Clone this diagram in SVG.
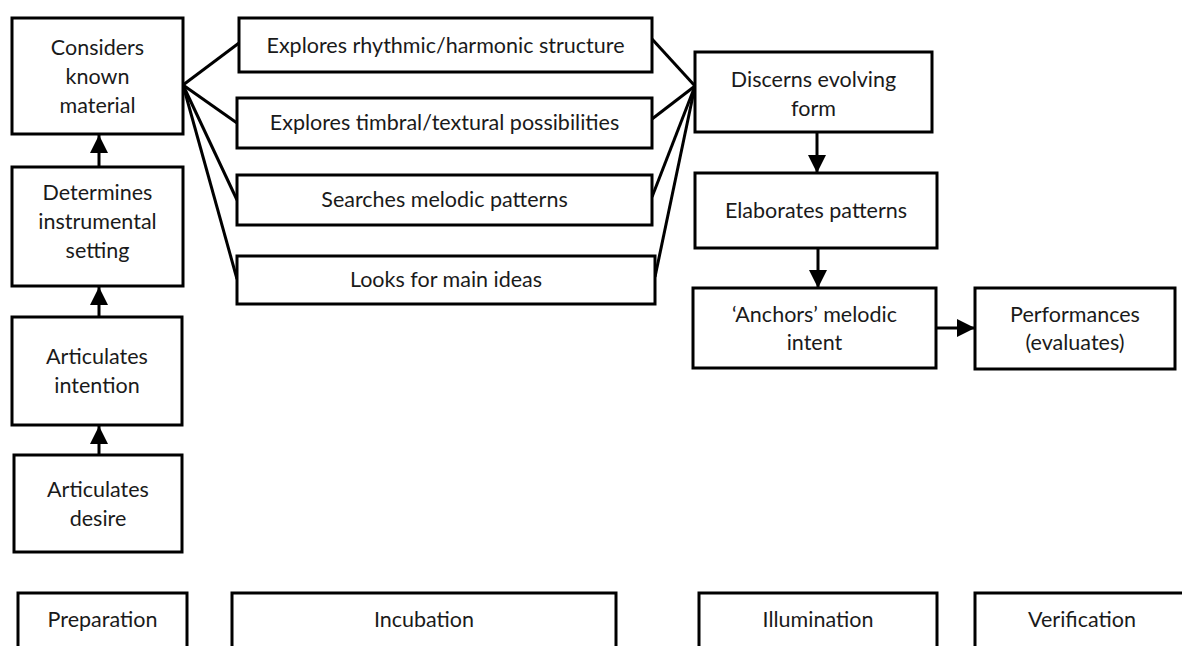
<svg xmlns="http://www.w3.org/2000/svg" width="1182" height="646" viewBox="0 0 1182 646">
  <style>
    .box { fill: #ffffff; stroke: #000000; stroke-width: 3; }
    .lbl { font-family: Lato, "Open Sans", "Liberation Sans", sans-serif; font-size: 21.5px; fill: #1a1a1a; text-anchor: middle; }
    .link { fill: none; stroke: #000000; stroke-width: 3; }
  </style>
  <defs>
    <marker id="head" viewBox="0 0 10 10" refX="10" refY="5" markerWidth="6" markerHeight="6" markerUnits="strokeWidth" orient="auto">
      <path d="M0,0 L10,5 L0,10 Z" fill="#000000"/>
    </marker>
  </defs>
  <rect width="1182" height="646" fill="#ffffff"/>

  <!-- connectors -->
  <g id="connectors">
    <!-- preparation chain, upward -->
    <line class="link" x1="99" y1="455" x2="99" y2="426" marker-end="url(#head)"/>
    <line class="link" x1="99" y1="317" x2="99" y2="287" marker-end="url(#head)"/>
    <line class="link" x1="99" y1="167" x2="99" y2="135" marker-end="url(#head)"/>
    <!-- fan out from known material -->
    <line class="link" x1="183" y1="85" x2="239" y2="43"/>
    <line class="link" x1="183" y1="85" x2="237" y2="123"/>
    <line class="link" x1="183" y1="85" x2="237" y2="200"/>
    <line class="link" x1="183" y1="85" x2="237" y2="279"/>
    <!-- fan in to evolving form -->
    <line class="link" x1="652" y1="39" x2="695" y2="86"/>
    <line class="link" x1="652" y1="119" x2="695" y2="86"/>
    <line class="link" x1="652" y1="197" x2="695" y2="86"/>
    <line class="link" x1="655" y1="277" x2="695" y2="86"/>
    <!-- illumination chain -->
    <line class="link" x1="817" y1="132" x2="817" y2="173" marker-end="url(#head)"/>
    <line class="link" x1="818" y1="248" x2="818" y2="288" marker-end="url(#head)"/>
    <line class="link" x1="936" y1="328" x2="975" y2="328" marker-end="url(#head)"/>
  </g>

  <!-- preparation -->
  <g id="considers">
    <rect class="box" x="12" y="18" width="171" height="116"/>
    <text class="lbl" x="97.5" y="55">Considers</text>
    <text class="lbl" x="97.5" y="84">known</text>
    <text class="lbl" x="97.5" y="113">material</text>
  </g>
  <g id="determines">
    <rect class="box" x="12" y="167" width="171" height="119"/>
    <text class="lbl" x="97.5" y="200">Determines</text>
    <text class="lbl" x="97.5" y="229">instrumental</text>
    <text class="lbl" x="97.5" y="258">setting</text>
  </g>
  <g id="intention">
    <rect class="box" x="12" y="317" width="170" height="108"/>
    <text class="lbl" x="97" y="364">Articulates</text>
    <text class="lbl" x="97" y="393">intention</text>
  </g>
  <g id="desire">
    <rect class="box" x="14" y="455" width="168" height="97"/>
    <text class="lbl" x="98" y="497">Articulates</text>
    <text class="lbl" x="98" y="526">desire</text>
  </g>

  <!-- incubation -->
  <g id="rhythmic">
    <rect class="box" x="239" y="18" width="413" height="54"/>
    <text class="lbl" x="445.5" y="53">Explores rhythmic/harmonic structure</text>
  </g>
  <g id="timbral">
    <rect class="box" x="237" y="98" width="415" height="50"/>
    <text class="lbl" x="444.5" y="130">Explores timbral/textural possibilities</text>
  </g>
  <g id="melodic">
    <rect class="box" x="237" y="175" width="415" height="50"/>
    <text class="lbl" x="444.5" y="207">Searches melodic patterns</text>
  </g>
  <g id="ideas">
    <rect class="box" x="237" y="256" width="418" height="48"/>
    <text class="lbl" x="446" y="287">Looks for main ideas</text>
  </g>

  <!-- illumination -->
  <g id="form">
    <rect class="box" x="695" y="52" width="237" height="80"/>
    <text class="lbl" x="813.5" y="87">Discerns evolving</text>
    <text class="lbl" x="813.5" y="116">form</text>
  </g>
  <g id="elaborates">
    <rect class="box" x="695" y="173" width="242" height="75"/>
    <text class="lbl" x="816" y="218">Elaborates patterns</text>
  </g>
  <g id="anchors">
    <rect class="box" x="693" y="288" width="243" height="80"/>
    <text class="lbl" x="814.5" y="322">‘Anchors’ melodic</text>
    <text class="lbl" x="814.5" y="350">intent</text>
  </g>

  <!-- verification -->
  <g id="performances">
    <rect class="box" x="975" y="288" width="200" height="81"/>
    <text class="lbl" x="1075" y="322">Performances</text>
    <text class="lbl" x="1075" y="350">(evaluates)</text>
  </g>

  <!-- stage labels -->
  <g id="stage-preparation">
    <rect class="box" x="18" y="593" width="169" height="70"/>
    <text class="lbl" x="102.5" y="627">Preparation</text>
  </g>
  <g id="stage-incubation">
    <rect class="box" x="232" y="593" width="384" height="70"/>
    <text class="lbl" x="424" y="627">Incubation</text>
  </g>
  <g id="stage-illumination">
    <rect class="box" x="699" y="593" width="238" height="70"/>
    <text class="lbl" x="818" y="627">Illumination</text>
  </g>
  <g id="stage-verification">
    <rect class="box" x="975" y="593" width="214" height="70"/>
    <text class="lbl" x="1082" y="627">Verification</text>
  </g>
</svg>
